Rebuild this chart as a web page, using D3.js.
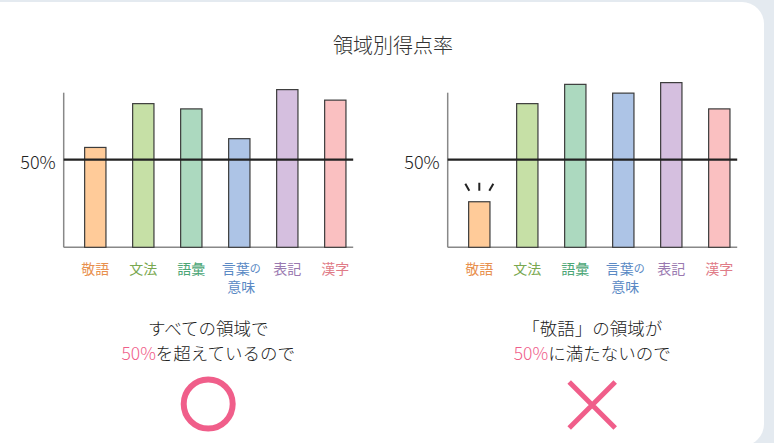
<!DOCTYPE html>
<html>
<head>
<meta charset="utf-8">
<script src="https://cdn.jsdelivr.net/npm/d3@7"></script>
<style>
  html, body { margin: 0; padding: 0; background: #e4eaf0; }
  text { font-family: "Noto Sans CJK JP", "Noto Sans", sans-serif; font-weight: 300; }
  text.cat { font-weight: 400; }
</style>
</head>
<body>
<script>
const width = 774,
    height = 443;

// data
const categories = ["敬語", "文法", "語彙", "言葉の意味", "表記", "漢字"];
const categoryLines = [["敬語"], ["文法"], ["語彙"], ["言葉の", "意味"], ["表記"], ["漢字"]];
const passValues = [57, 82, 79, 62, 90, 84];
const failValues = [26, 82, 93, 88, 94, 79];
const threshold = 50;
const thresholdLabel = "50%";
const title = "領域別得点率";
const captions = [
    ["すべての領域で", ["50%", "を超えているので"]],
    ["「敬語」の領域が", ["50%", "に満たないので"]]
];

const fills = ["#ffcb99", "#c6e0a6", "#acd9bf", "#adc4e6", "#d5bfdf", "#fac0c1"];
const labelColors = ["#e8904e", "#79a850", "#4ca676", "#5a89c4", "#9a79b0", "#e07b87"];
const pink = "#f05e8a";

const svg = d3.select("body").append("svg")
    .attr("width", width)
    .attr("height", height);

// white card
svg.append("rect")
    .attr("x", -24)
    .attr("y", 2)
    .attr("width", 788)
    .attr("height", 444)
    .attr("rx", 22)
    .attr("fill", "#fff");

svg.append("text")
    .attr("x", 393)
    .attr("y", 44)
    .attr("text-anchor", "middle")
    .attr("dominant-baseline", "central")
    .attr("font-size", 20)
    .attr("fill", "#333")
    .text(title);

const y = d3.scaleLinear()
    .domain([0, 100])
    .range([247.3, 72.1]);

function drawPanel(ox, values, caption, mark) {
    const g = svg.append("g").attr("transform", `translate(${ox},0)`);

    const x = d3.scaleBand()
        .domain(categories)
        .range([7.6, 295.6])
        .paddingInner(0.556)
        .paddingOuter(0.278);

    // axes
    g.append("line")
        .attr("x1", 0).attr("x2", 0)
        .attr("y1", 92.7).attr("y2", y(0))
        .attr("stroke", "#888").attr("stroke-width", 1.5);
    g.append("line")
        .attr("x1", 0).attr("x2", 289.5)
        .attr("y1", y(0)).attr("y2", y(0))
        .attr("stroke", "#888").attr("stroke-width", 1.5);

    g.selectAll(".bar")
        .data(values)
        .enter().append("rect")
        .attr("class", "bar")
        .attr("x", (d, i) => x(categories[i]))
        .attr("y", d => y(d))
        .attr("width", x.bandwidth())
        .attr("height", d => y(0) - y(d))
        .attr("fill", (d, i) => fills[i])
        .attr("stroke", "#3c3c3c")
        .attr("stroke-width", 1.2);

    // 50% line
    g.append("line")
        .attr("x1", 0).attr("x2", 289.5)
        .attr("y1", y(threshold)).attr("y2", y(threshold))
        .attr("stroke", "#222").attr("stroke-width", 2.2);

    g.append("text")
        .attr("x", -8)
        .attr("y", y(threshold) + 1)
        .attr("text-anchor", "end")
        .attr("dominant-baseline", "central")
        .attr("font-size", 18)
        .attr("fill", "#222")
        .text(thresholdLabel);

    // category labels
    categoryLines.forEach((lines, i) => {
        const cx = x(categories[i]) + x.bandwidth() / 2 + (lines.length > 1 ? 2 : 0);
        lines.forEach((line, j) => {
            const t = g.append("text")
                .attr("class", "cat")
                .attr("x", cx)
                .attr("y", 267.5 + j * 18.5)
                .attr("text-anchor", "middle")
                .attr("dominant-baseline", "central")
                .attr("font-size", 14)
                .attr("fill", labelColors[i]);
            line.split("").forEach(ch => {
                t.append("tspan")
                    .attr("font-size", ch === "の" ? 11 : null)
                    .text(ch);
            });
        });
    });

    // caption
    const cx = 144.5;
    g.append("text")
        .attr("x", cx).attr("y", 327)
        .attr("text-anchor", "middle")
        .attr("dominant-baseline", "central")
        .attr("font-size", 17.5)
        .attr("fill", "#222")
        .text(caption[0]);
    const t2 = g.append("text")
        .attr("x", cx).attr("y", 352)
        .attr("text-anchor", "middle")
        .attr("dominant-baseline", "central")
        .attr("font-size", 17.5)
        .attr("fill", "#222");
    t2.append("tspan").attr("fill", pink).text(caption[1][0]);
    t2.append("tspan").text(caption[1][1]);

    if (mark === "circle") {
        g.append("circle")
            .attr("cx", cx).attr("cy", 404)
            .attr("r", 24.5)
            .attr("fill", "none")
            .attr("stroke", pink)
            .attr("stroke-width", 6);
    } else {
        const s = 23;
        g.append("path")
            .attr("d", `M${cx - s},${405 - s}L${cx + s},${405 + s}M${cx + s},${405 - s}L${cx - s},${405 + s}`)
            .attr("stroke", pink)
            .attr("stroke-width", 5)
            .attr("fill", "none");

        // emphasis strokes above the low bar
        const bx = x(categories[0]) + x.bandwidth() / 2;
        const by = y(values[0]);
        const strokes = [[-14, -18, -10, -11], [0, -19, 0, -11], [14, -18, 10, -11]];
        g.selectAll(".spark")
            .data(strokes)
            .enter().append("line")
            .attr("x1", d => bx + d[0]).attr("y1", d => by + d[1])
            .attr("x2", d => bx + d[2]).attr("y2", d => by + d[3])
            .attr("stroke", "#222")
            .attr("stroke-width", 2);
    }
}

drawPanel(63.7, passValues, captions[0], "circle");
drawPanel(447.7, failValues, captions[1], "cross");
</script>
</body>
</html>
